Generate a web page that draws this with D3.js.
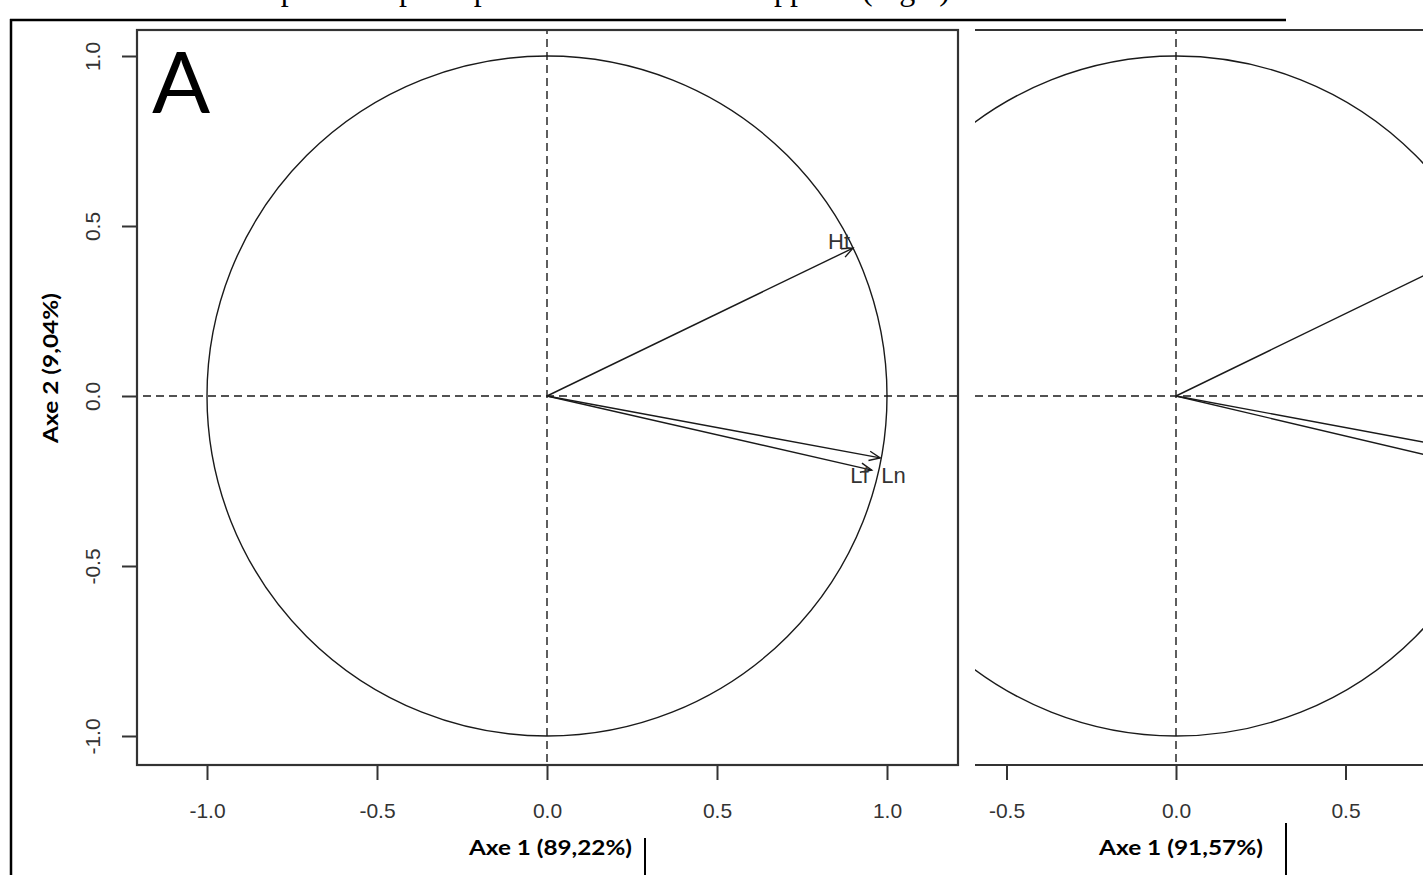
<!DOCTYPE html>
<html>
<head>
<meta charset="utf-8">
<script src="https://cdn.jsdelivr.net/npm/d3@7"></script>
<style>
  html, body { margin: 0; padding: 0; background: #fff; }
  svg { display: block; }
</style>
</head>
<body>
<svg id="chart" width="1423" height="875"></svg>
<script>
// ---------------- data ----------------
const tickValues = [-1.0, -0.5, 0.0, 0.5, 1.0];
const varNames = ["Ht", "Lf", "Ln"];
const panelA_axis1 = [0.900, 0.955, 0.980];
const panelA_axis2 = [0.435, -0.218, -0.182];
const panelB_axis1 = [0.900, 0.965, 0.985];
const panelB_axis2 = [0.436, -0.227, -0.183];
const panelA_xTitle = "Axe 1 (89,22%)";
const panelA_yTitle = "Axe 2 (9,04%)";
const panelB_xTitle = "Axe 1 (91,57%)";
const panelLetter = "A";
const captionText = "Cercles de corrélation des composantes principales des mesures de rapports (Fig.2)";

// ---------------- setup ----------------
const svg = d3.select("#chart");
const W = 1423, H = 875;
const boxColor = "#333";
const inkColor = "#1a1a1a";
const tickFont = "'Liberation Sans', Arial, sans-serif";
const fmt = d => d.toFixed(1);

const defs = svg.append("defs");
defs.append("clipPath").attr("id", "clipA").append("rect")
  .attr("x", 137).attr("y", 30).attr("width", 821).attr("height", 735);
defs.append("clipPath").attr("id", "clipB").append("rect")
  .attr("x", 975).attr("y", 30).attr("width", W - 975).attr("height", 735);

// caption line (cut at top of the page: only descenders show)
svg.append("text")
  .attr("x", 950).attr("y", -0.5)
  .attr("text-anchor", "end")
  .attr("font-family", "'Liberation Serif', 'Times New Roman', serif")
  .attr("font-size", 32)
  .attr("fill", "#000")
  .text(captionText);

// document frame lines
svg.append("line").attr("x1", 10).attr("x2", 1286).attr("y1", 20).attr("y2", 20)
  .attr("stroke", "#000").attr("stroke-width", 2.5);
svg.append("line").attr("x1", 11).attr("x2", 11).attr("y1", 19).attr("y2", H)
  .attr("stroke", "#000").attr("stroke-width", 2.5);
svg.append("line").attr("x1", 645).attr("x2", 645).attr("y1", 838).attr("y2", H)
  .attr("stroke", "#000").attr("stroke-width", 2);
svg.append("line").attr("x1", 1286).attr("x2", 1286).attr("y1", 823).attr("y2", H)
  .attr("stroke", "#000").attr("stroke-width", 2);

// arrow helper
function drawArrows(g, x, y, xs, ys) {
  const x0 = x(0), y0 = y(0);
  xs.forEach((v, i) => {
    const tx = x(v), ty = y(ys[i]);
    g.append("line").attr("x1", x0).attr("y1", y0).attr("x2", tx).attr("y2", ty)
      .attr("stroke", inkColor).attr("stroke-width", 1.4);
    const ang = Math.atan2(ty - y0, tx - x0);
    const L = 12, a = 0.40;
    const p1 = [tx - L * Math.cos(ang - a), ty - L * Math.sin(ang - a)];
    const p2 = [tx - L * Math.cos(ang + a), ty - L * Math.sin(ang + a)];
    g.append("path")
      .attr("d", `M${p1[0]},${p1[1]}L${tx},${ty}L${p2[0]},${p2[1]}`)
      .attr("fill", "none").attr("stroke", inkColor).attr("stroke-width", 1.4);
  });
}

function drawPanel(opts) {
  const { x, y, clip, xs, ys } = opts;
  const g = svg.append("g").attr("clip-path", `url(#${clip})`);
  g.append("line").attr("x1", 0).attr("x2", W).attr("y1", y(0)).attr("y2", y(0))
    .attr("stroke", inkColor).attr("stroke-width", 1.4).attr("stroke-dasharray", "8,5");
  g.append("line").attr("x1", x(0)).attr("x2", x(0)).attr("y1", 0).attr("y2", H)
    .attr("stroke", inkColor).attr("stroke-width", 1.4).attr("stroke-dasharray", "8,5");
  g.append("ellipse")
    .attr("cx", x(0)).attr("cy", y(0))
    .attr("rx", x(1) - x(0)).attr("ry", y(0) - y(1))
    .attr("fill", "none").attr("stroke", inkColor).attr("stroke-width", 1.4);
  drawArrows(g, x, y, xs, ys);
  return g;
}

// ---------------- panel A ----------------
const xA = d3.scaleLinear().domain([-1, 1]).range([207, 887]);
const yA = d3.scaleLinear().domain([-1, 1]).range([736, 56]);
const gA = drawPanel({ x: xA, y: yA, clip: "clipA", xs: panelA_axis1, ys: panelA_axis2 });

varNames.forEach((name, i) => {
  const tx = xA(panelA_axis1[i]), ty = yA(panelA_axis2[i]);
  let ax, ay, anchor;
  if (name === "Ht") { ax = tx - 3; ay = ty + 1; anchor = "end"; }
  else if (name === "Lf") { ax = tx - 3; ay = ty + 13; anchor = "end"; }
  else { ax = tx + 1; ay = ty + 25; anchor = "start"; }
  gA.append("text").attr("x", ax).attr("y", ay).attr("text-anchor", anchor)
    .attr("font-family", tickFont).attr("font-size", 22)
    .attr("fill", "#333").text(name);
});

svg.append("rect").attr("x", 137).attr("y", 30).attr("width", 821).attr("height", 735)
  .attr("fill", "none").attr("stroke", boxColor).attr("stroke-width", 2.2);

const axAx = svg.append("g").attr("transform", "translate(0,765)")
  .call(d3.axisBottom(xA).tickValues(tickValues).tickFormat(fmt).tickSize(15).tickPadding(23));
axAx.select(".domain").remove();
axAx.selectAll(".tick line").attr("stroke", boxColor).attr("stroke-width", 2);
axAx.selectAll("text").attr("font-family", tickFont).attr("font-size", 21).attr("fill", "#333");

const ayAx = svg.append("g").attr("transform", "translate(137,0)")
  .call(d3.axisLeft(yA).tickValues(tickValues).tickFormat(fmt).tickSize(15));
ayAx.select(".domain").remove();
ayAx.selectAll(".tick line").attr("stroke", boxColor).attr("stroke-width", 2);
ayAx.selectAll("text")
  .attr("x", null).attr("dy", null)
  .attr("transform", "translate(-37,0) rotate(-90)")
  .attr("text-anchor", "middle")
  .attr("font-family", tickFont).attr("font-size", 21).attr("fill", "#333");

const titleFont = "Lato, 'Open Sans', sans-serif";
svg.append("text").attr("x", 469).attr("y", 855)
  .attr("font-family", titleFont).attr("font-weight", "bold").attr("font-size", 20)
  .attr("textLength", 163).attr("lengthAdjust", "spacingAndGlyphs")
  .attr("fill", "#000").text(panelA_xTitle);
svg.append("text")
  .attr("transform", "translate(58,443) rotate(-90)")
  .attr("font-family", titleFont).attr("font-weight", "bold").attr("font-size", 20)
  .attr("textLength", 150).attr("lengthAdjust", "spacingAndGlyphs")
  .attr("fill", "#000").text(panelA_yTitle);

svg.append("text").attr("x", 152).attr("y", 113)
  .attr("font-family", "Lato, 'Open Sans', sans-serif").attr("font-size", 86)
  .attr("fill", "#000").text(panelLetter);

// ---------------- panel B (cropped on the left and right) ----------------
const xB = d3.scaleLinear().domain([-1, 1]).range([837, 1515]);
const yB = d3.scaleLinear().domain([-1, 1]).range([736, 56]);
drawPanel({ x: xB, y: yB, clip: "clipB", xs: panelB_axis1, ys: panelB_axis2 });

svg.append("line").attr("x1", 975).attr("x2", W).attr("y1", 30).attr("y2", 30)
  .attr("stroke", boxColor).attr("stroke-width", 2.2);
svg.append("line").attr("x1", 975).attr("x2", W).attr("y1", 765).attr("y2", 765)
  .attr("stroke", boxColor).attr("stroke-width", 2.2);

const visibleB = tickValues.filter(v => xB(v) > 975 && xB(v) < W - 20);
const axBx = svg.append("g").attr("transform", "translate(0,765)")
  .call(d3.axisBottom(xB).tickValues(visibleB).tickFormat(fmt).tickSize(15).tickPadding(23));
axBx.select(".domain").remove();
axBx.selectAll(".tick line").attr("stroke", boxColor).attr("stroke-width", 2);
axBx.selectAll("text").attr("font-family", tickFont).attr("font-size", 21).attr("fill", "#333");

svg.append("text").attr("x", 1099).attr("y", 855)
  .attr("font-family", titleFont).attr("font-weight", "bold").attr("font-size", 20)
  .attr("textLength", 164).attr("lengthAdjust", "spacingAndGlyphs")
  .attr("fill", "#000").text(panelB_xTitle);
</script>
</body>
</html>
